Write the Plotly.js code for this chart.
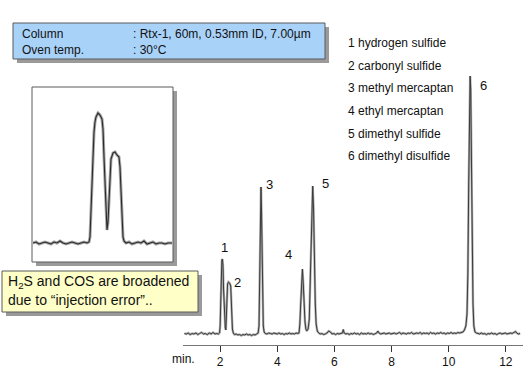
<!DOCTYPE html>
<html>
<head>
<meta charset="utf-8">
<script src="https://cdn.plot.ly/plotly-3.0.1.min.js"></script>
<style>html,body{margin:0;padding:0;background:#fff}#chart{width:532px;height:378px}</style>
</head>
<body>
<div id="chart"></div>
<script>
// ---- main chromatogram (time in min, signal in arbitrary units above baseline)
const times = [
 0.75,0.82,0.88,0.95,1.02,1.08,1.15,1.22,1.28,1.35,1.42,1.48,1.55,1.62,1.68,1.75,1.82,1.88,1.94,
 1.98,2.00,2.02,2.04,2.06,2.08,2.10,2.12,2.15,2.18,2.20,2.22,2.24,2.26,2.29,2.33,2.37,2.39,2.41,2.43,2.46,
 2.50,2.56,2.62,2.68,2.74,2.80,2.86,2.92,2.98,3.04,3.10,3.16,3.22,3.28,3.33,
 3.36,3.38,3.40,3.42,3.43,3.45,3.47,3.49,3.51,3.54,3.58,
 3.64,3.70,3.76,3.82,3.88,3.94,4.00,4.06,4.12,4.18,4.24,4.30,4.36,4.42,4.48,4.54,4.60,4.66,4.72,
 4.76,4.79,4.82,4.85,4.88,4.91,4.94,4.97,5.00,5.03,5.08,5.12,5.16,5.20,5.24,5.27,5.30,5.33,5.36,5.40,5.45,
 5.50,5.56,5.62,5.68,5.74,5.80,5.86,5.92,5.98,6.04,6.10,6.16,6.22,6.28,6.31,6.34,6.40,6.46,6.52,6.58,
 6.64,6.70,6.76,6.82,6.88,6.94,7.00,7.06,7.12,7.18,7.24,7.30,7.36,7.42,7.48,7.52,7.56,7.62,7.68,7.74,
 7.80,7.86,7.92,7.98,8.04,8.10,8.16,8.22,8.28,8.34,8.40,8.46,8.52,8.58,8.64,8.70,8.76,8.82,8.88,8.94,
 9.00,9.06,9.12,9.18,9.24,9.30,9.36,9.42,9.48,9.54,9.60,9.66,9.72,9.78,9.84,9.90,9.96,10.02,10.08,10.14,
 10.20,10.26,10.32,10.38,10.44,10.50,
 10.55,10.60,10.64,10.67,10.70,10.73,10.75,10.77,10.79,10.82,10.85,10.88,10.92,10.97,
 11.02,11.08,11.14,11.20,11.26,11.32,11.38,11.44,11.50,11.56,11.62,11.68,11.74,11.80,11.86,11.92,11.98,
 12.04,12.10,12.16,12.22,12.28,12.34,12.38,12.44,12.50
];
const signal = [
 0.5,0,1,-0.5,0.5,0,1,-0.5,0.5,1.5,0,0.5,-0.5,1,0,1.5,0,0.5,0,
 1,8,35,62,74,75,68,45,18,6,4,15,38,50,52,51,48,35,15,5,1,
 -0.5,0,-1,-0.5,-1.5,-0.5,-1,0,-1,-0.5,-1.5,-0.5,-1,0,1,
 8,40,95,140,147,120,65,25,8,2,0.5,
 0,1,0.5,0,1,0.5,0,1,0,0.5,-0.5,0.5,0,1,0,0.5,0,1,0.5,
 1,10,30,55,65,50,28,12,5,3,5,15,60,120,148,125,70,30,10,3,1,
 0,0.5,-0.5,0,1,3,2,0,0.5,-0.5,0.5,0,0.5,1,4.5,1,0,0.5,-0.5,0.5,
 0,1,0,0.5,-0.5,1,0,0.5,0,1,0,0.5,-0.5,0.5,1,3,1,0,0.5,1,
 0,0.5,1,0,0.5,1,0,0.5,1.5,0,1,0.5,0,1,0.5,1.5,0,0.5,1,0.5,
 1.5,0,1,0.5,1,0,1.5,0.5,1,0,1,0.5,1.5,0.5,1,0,1,0.5,1.5,0.5,
 1,0.5,1.5,1,1.5,2,
 4,8,20,60,150,230,258,245,180,90,30,8,2,1,
 0.5,0,1,0,0.5,-0.5,0.5,0,1,0,0.5,-0.5,0.5,1,0,0.5,1,
 0,0.5,1,0.5,1.5,2.5,1,0,0.5
];
const tickValues = [2,4,6,8,10,12];
const peakNumbers = ["1","2","3","4","5","6"];
const compounds = ["1 hydrogen sulfide","2 carbonyl sulfide","3 methyl mercaptan",
                   "4 ethyl mercaptan","5 dimethyl sulfide","6 dimethyl disulfide"];
const conditionNames = ["Column","Oven temp."];
const conditionValues = [": Rtx-1, 60m, 0.53mm ID, 7.00µm",": 30°C"];
const noteLines = ["H<sub>2</sub>S and COS are broadened","due to “injection error”.."];

// ---- inset (expanded view of peaks 1 and 2)
const insetX = [0,3,6,9,12,15,18,21,24,27,30,33,36,39,42,45,48,51,54,56,
 57,58,59,60,61,62,63,65,67,69,70,71,72,73,74,75,76,77,78,80,82,84,86,87,88,89,90,91,93,
 96,99,102,105,108,111,114,117,120,123,126,129,132,135,139];
const insetY = [14,15,13,14,15,14,13,15,14,16,14,13,14,15,14,13,14,15,14,15,
 20,45,80,105,125,135,140,144,142,138,128,100,70,40,27,35,60,85,98,104,105,102,100,90,60,35,20,16,14,
 15,13,14,15,14,16,13,14,15,13,14,14,13,14,14];

// ---- layout helpers (pixel -> paper)
const W = 532, H = 378;
const px = x => x / W;
const py = y => 1 - y / H;
const FONT = "Liberation Sans, Arial, sans-serif";

function rect(x0, y0, x1, y1, fill, line) {
  return {type: "rect", xref: "paper", yref: "paper", layer: "below",
    x0: px(x0), x1: px(x1), y0: py(y1), y1: py(y0),
    fillcolor: fill, line: line ? {color: line, width: 1} : {width: 0}};
}
function txt(x, y, text, size, anchor) {
  return {xref: "paper", yref: "paper", x: px(x), y: py(y), text: text, showarrow: false,
    xanchor: anchor || "left", yanchor: "middle",
    font: {family: FONT, size: size, color: "#111"}};
}

const shapes = [
  // condition box
  rect(17, 27, 329, 63, "#9a9a9a"),
  rect(13, 23, 325, 59, "#a9d2f9", "#5a5a5a"),
  // inset box
  rect(36, 91, 177, 266, "#9a9a9a"),
  rect(32, 87, 173, 262, "#ffffff", "#5a5a5a"),
  // note box
  rect(6, 275, 202, 316, "#9a9a9a"),
  rect(2, 271, 198, 312, "#ffffc8", "#5a5a5a")
];

const peakLabelPos = [[224,247],[237,282],[269,184],[288,254],[325,183],[483,86]];
const annotations = [];
conditionNames.forEach((t, i) => annotations.push(txt(20, 34 + 16 * i, t, 12)));
conditionValues.forEach((t, i) => annotations.push(txt(131, 34 + 16 * i, t, 12)));
compounds.forEach((t, i) => annotations.push(txt(346, 43 + 22.7 * i, t, 12)));
peakNumbers.forEach((t, i) => annotations.push(txt(peakLabelPos[i][0], peakLabelPos[i][1], t, 13, "center")));
noteLines.forEach((t, i) => annotations.push(txt(6, 282 + 18 * i, t, 14)));
annotations.push(txt(183, 359, "min.", 12, "center"));

const data = [
  {x: times, y: signal, type: "scatter", mode: "lines", xaxis: "x", yaxis: "y",
   line: {color: "#b0b0b0", width: 2.4}, hoverinfo: "skip"},
  {x: times, y: signal, type: "scatter", mode: "lines", xaxis: "x", yaxis: "y",
   line: {color: "#3a3a3a", width: 1}, hoverinfo: "skip"},
  {x: insetX, y: insetY, type: "scatter", mode: "lines", xaxis: "x2", yaxis: "y2",
   line: {color: "#a8a8a8", width: 3}, hoverinfo: "skip"},
  {x: insetX, y: insetY, type: "scatter", mode: "lines", xaxis: "x2", yaxis: "y2",
   line: {color: "#2a2a2a", width: 1.1}, hoverinfo: "skip"}
];

const layout = {
  width: W, height: H,
  margin: {l: 0, r: 0, t: 0, b: 0},
  paper_bgcolor: "#ffffff", plot_bgcolor: "rgba(0,0,0,0)",
  showlegend: false,
  font: {family: FONT, color: "#111"},
  xaxis: {domain: [px(183), px(523)], range: [0.7, 12.6], anchor: "y",
    tickvals: tickValues, ticktext: tickValues.map(String),
    ticks: "outside", ticklen: 6, tickwidth: 1, tickcolor: "#333",
    showline: true, linecolor: "#777", linewidth: 1,
    showgrid: false, zeroline: false,
    tickfont: {family: FONT, size: 12, color: "#111"}},
  yaxis: {domain: [py(345), py(20)], range: [-11, 314], anchor: "x", visible: false},
  xaxis2: {domain: [px(33), px(172)], range: [0, 139], anchor: "y2", visible: false},
  yaxis2: {domain: [py(257), py(88)], range: [0, 169], anchor: "x2", visible: false},
  shapes: shapes,
  annotations: annotations
};

Plotly.newPlot("chart", data, layout, {staticPlot: true, displayModeBar: false});
</script>
</body>
</html>
